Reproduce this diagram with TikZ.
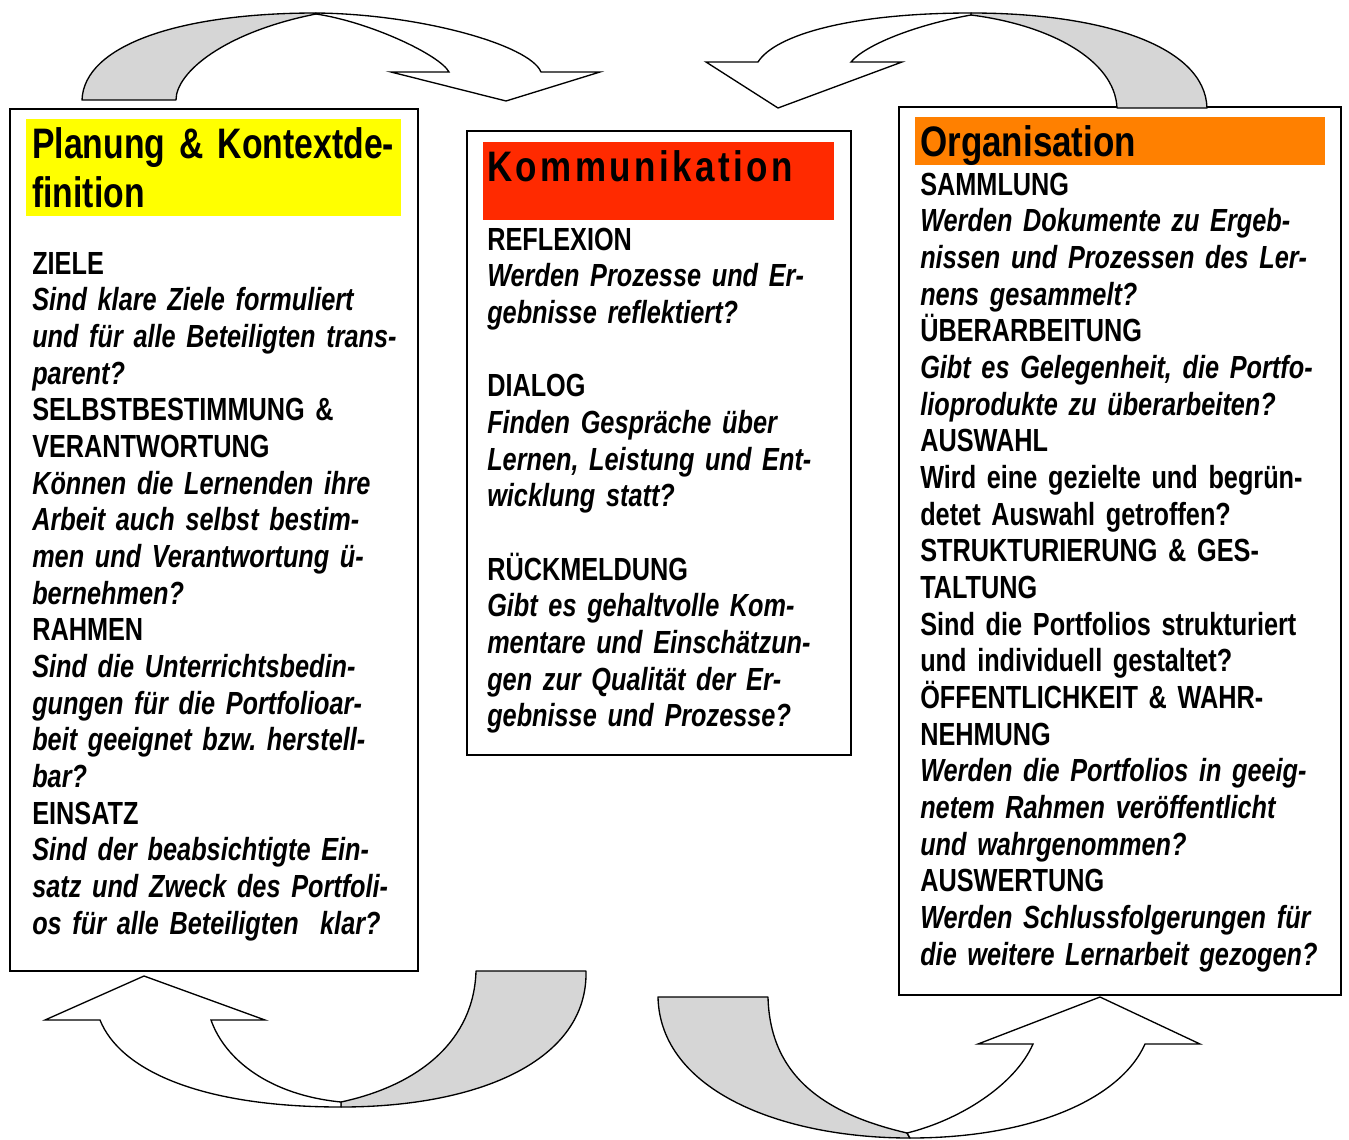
\documentclass[tikz,border=0pt]{standalone}
\usepackage{fontspec}
\setmainfont{Liberation Sans}[FakeStretch=0.79]
\newfontfamily\sperrschrift{Liberation Sans}[FakeStretch=0.82, LetterSpace=8]
\newfontfamily\titelschrift{Liberation Sans}[FakeStretch=0.82]
\usetikzlibrary{positioning}
\frenchspacing
\definecolor{kopfgelb}{HTML}{FFFF00}
\definecolor{kopfrot}{HTML}{FF2A00}
\definecolor{kopforange}{HTML}{FF8000}
\definecolor{pfeilgrau}{HTML}{D6D6D6}
\newcommand{\frage}{\itshape}
\newcommand{\stichwort}{\upshape}
\tikzstyle{rahmen} = [% frame of one column
  draw=black,
  line width=1.2pt,
  fill=white
  ]
\tikzstyle{titel} = [% coloured heading of a column
  anchor=base west,
  inner sep=0pt,
  text width=12cm,
  align=left,
  font=\fontsize{32}{36.75}\selectfont\bfseries
  ]
\tikzstyle{spalte} = [% keywords and questions of a column
  anchor=base west,
  inner sep=0pt,
  text width=12cm,
  align=left,
  font=\fontsize{24}{27.5}\selectfont\bfseries
  ]
\tikzstyle{pfeilhinten} = [% back part of a curved arrow
  draw=black,
  line width=1pt,
  line join=round,
  fill=pfeilgrau
  ]
\tikzstyle{pfeilvorn} = [% front part of a curved arrow
  draw=black,
  line width=1pt,
  line join=miter,
  fill=white
  ]

\begin{document}
\begin{tikzpicture}[x=0.75pt, y=-0.75pt]
\useasboundingbox (0,0) rectangle (1349,1139);

%%% Frames and headings
\draw[rahmen] (10,109) rectangle (418,971);
\fill[kopfgelb] (26,119) rectangle (401,216);
\draw[rahmen] (467,131) rectangle (851,755);
\fill[kopfrot] (483,142) rectangle (834,220);
\draw[rahmen] (899,107) rectangle (1341,995);
\fill[kopforange] (915,117) rectangle (1325,165);

%%% Texts
\node[titel] (planung) at (32,158) {Planung \& Kontextde-\\finition};
\node[spalte] (planungfragen) at (32,274) {%
  ZIELE\\
  \frage Sind klare Ziele formuliert\\
  und für alle Beteiligten trans-\\
  parent?\\
  \stichwort SELBSTBESTIMMUNG \&\\
  VERANTWORTUNG\\
  \frage Können die Lernenden ihre\\
  Arbeit auch selbst bestim-\\
  men und Verantwortung ü-\\
  bernehmen?\\
  \stichwort RAHMEN\\
  \frage Sind die Unterrichtsbedin-\\
  gungen für die Portfolioar-\\
  beit geeignet bzw. herstell-\\
  bar?\\
  \stichwort EINSATZ\\
  \frage Sind der beabsichtigte Ein-\\
  satz und Zweck des Portfoli-\\
  os für alle Beteiligten~ klar?};

\node[titel] (kommunikation) at (487,181) {\sperrschrift Kommunikation};
\node[spalte] (kommunikationfragen) at (487,250) {%
  REFLEXION\\
  \frage Werden Prozesse und Er-\\
  gebnisse reflektiert?\\[27.5pt]
  \stichwort DIALOG\\
  \frage Finden Gespräche über\\
  Lernen, Leistung und Ent-\\
  wicklung statt?\\[27.5pt]
  \stichwort RÜCKMELDUNG\\
  \frage Gibt es gehaltvolle Kom-\\
  mentare und Einschätzun-\\
  gen zur Qualität der Er-\\
  gebnisse und Prozesse?};

\node[titel] (organisation) at (920,156) {\titelschrift Organisation};
\node[spalte] (organisationfragen) at (920,195) {%
  SAMMLUNG\\
  \frage Werden Dokumente zu Ergeb-\\
  nissen und Prozessen des Ler-\\
  nens gesammelt?\\
  \stichwort ÜBERARBEITUNG\\
  \frage Gibt es Gelegenheit, die Portfo-\\
  lioprodukte zu überarbeiten?\\
  \stichwort AUSWAHL\\
  Wird eine gezielte und begrün-\\
  detet Auswahl getroffen?\\
  STRUKTURIERUNG \& GES-\\
  TALTUNG\\
  Sind die Portfolios strukturiert\\
  und individuell gestaltet?\\
  ÖFFENTLICHKEIT \& WAHR-\\
  NEHMUNG\\
  \frage Werden die Portfolios in geeig-\\
  netem Rahmen veröffentlicht\\
  und wahrgenommen?\\
  \stichwort AUSWERTUNG\\
  \frage Werden Schlussfolgerungen für\\
  die weitere Lernarbeit gezogen?};

%%% Curved arrows
% top left
\draw[pfeilhinten] (82,100) .. controls (84,45) and (180,13) .. (316,13)
  -- (316,14) .. controls (225,32) and (176,72) .. (176,100) -- cycle;
\draw[pfeilvorn] (316,13) .. controls (420,14) and (530,45) .. (541,72)
  -- (600,72) -- (506,101) -- (391,72) -- (449,72)
  .. controls (440,55) and (370,22) .. (316,14) -- cycle;
% top right
\draw[pfeilhinten] (1207,108) .. controls (1205,45) and (1100,13) .. (971,13)
  -- (971,15) .. controls (1050,25) and (1115,60) .. (1117,108) -- cycle;
\draw[pfeilvorn] (971,13) .. controls (850,13) and (775,35) .. (758,62)
  -- (706,62) -- (778,108) -- (902,62) -- (851,62)
  .. controls (865,45) and (915,25) .. (971,15) -- cycle;
% bottom left
\draw[pfeilhinten] (586,971) .. controls (588,1060) and (480,1107) .. (341,1107)
  -- (341,1102) .. controls (420,1085) and (474,1040) .. (476,971) -- cycle;
\draw[pfeilvorn] (341,1107) .. controls (200,1107) and (120,1070) .. (100,1020)
  -- (45,1020) -- (144,976) -- (265,1020) -- (211,1020)
  .. controls (225,1060) and (270,1095) .. (341,1102) -- cycle;
% bottom right
\draw[pfeilhinten] (658,997) .. controls (660,1090) and (780,1138) .. (910,1138)
  -- (907,1133) .. controls (830,1115) and (770,1080) .. (768,997) -- cycle;
\draw[pfeilvorn] (910,1138) .. controls (1030,1138) and (1120,1100) .. (1145,1044)
  -- (1200,1044) -- (1100,997) -- (978,1044) -- (1033,1044)
  .. controls (1015,1085) and (960,1120) .. (907,1133) -- cycle;

\end{tikzpicture}
\end{document}
